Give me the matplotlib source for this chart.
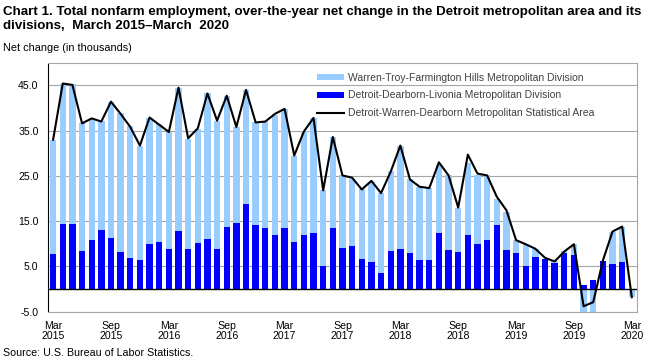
import numpy as np
import matplotlib
matplotlib.use("Agg")
import matplotlib.pyplot as plt
import matplotlib as mpl

mpl.rcParams["font.family"] = ["Liberation Sans", "DejaVu Sans"]

# monthly over-the-year net change (thousands), Mar 2015 .. Mar 2020
DETROIT_DEARBORN = [
    7.8, 14.4, 14.4, 8.4, 10.8, 13.0, 11.3, 8.2, 6.9, 6.4,
    10.0, 10.4, 8.9, 12.8, 8.9, 10.2, 11.1, 8.9, 13.8, 14.6,
    18.8, 14.1, 13.5, 11.9, 13.5, 10.4, 11.9, 12.4, 5.1, 13.5,
    9.1, 9.5, 6.7, 6.0, 3.6, 8.4, 8.9, 8.0, 6.4, 6.4,
    12.4, 8.6, 8.1, 11.9, 10.0, 10.8, 14.1, 8.6, 7.9, 5.2,
    7.0, 6.7, 5.7, 7.9, 7.5, 1.0, 1.9, 6.3, 5.6, 5.9,
    -0.3,
]
WARREN_TROY = [
    25.2, 31.0, 30.9, 28.2, 26.8, 24.1, 30.1, 30.8, 29.2, 25.3,
    27.8, 26.1, 25.8, 31.7, 24.3, 25.2, 32.1, 28.3, 28.9, 21.2,
    25.2, 22.7, 23.5, 26.6, 26.3, 19.1, 23.1, 25.4, 16.7, 20.1,
    16.0, 14.9, 15.3, 17.7, 17.6, 17.6, 22.8, 16.4, 16.2, 15.9,
    14.9, 16.7, 9.7, 15.9, 15.3, 14.3, 5.9, 8.5, 2.9, 4.7,
    1.8, -0.3, 0.5, 0.4, 2.4, -5.3, -5.2, 0.0, 6.9, 7.9,
    -1.5,
]
MSA_TOTAL = [
    33.0, 45.4, 45.1, 36.6, 37.7, 37.0, 41.4, 38.7, 35.8, 31.7,
    37.9, 36.3, 34.7, 44.5, 33.3, 35.5, 43.2, 37.2, 42.7, 35.8,
    44.0, 36.8, 37.0, 38.7, 39.8, 29.5, 34.8, 37.8, 21.8, 33.6,
    25.1, 24.6, 22.0, 23.9, 21.2, 25.9, 31.7, 24.2, 22.6, 22.3,
    28.0, 25.1, 18.0, 29.7, 25.5, 25.1, 20.4, 17.4, 10.8, 9.9,
    8.9, 6.9, 6.1, 8.3, 9.9, -3.8, -2.9, 6.3, 12.7, 13.8,
    -1.8,
]
TICK_LABELS = [
    "Mar\n2015", "Sep\n2015", "Mar\n2016", "Sep\n2016", "Mar\n2017", "Sep\n2017",
    "Mar\n2018", "Sep\n2018", "Mar\n2019", "Sep\n2019", "Mar\n2020",
]
Y_TICKS = [-5.0, 5.0, 15.0, 25.0, 35.0, 45.0]

LIGHT = "#99ccff"
DARK = "#0000ff"
GRID = "#a6a6a6"

TITLE = ("Chart 1. Total nonfarm employment, over-the-year net change in the Detroit "
         "metropolitan area and its\ndivisions,  March 2015\u2013March  2020")


def main():
    dark = np.array(DETROIT_DEARBORN)
    light = np.array(WARREN_TROY)
    msa = np.array(MSA_TOTAL)
    x = np.arange(len(dark))

    # excel-style stacking: negatives stack below zero, positives above
    light_bottom = np.where(light >= 0, np.maximum(dark, 0), np.minimum(dark, 0))

    fig = plt.figure(figsize=(6.57, 3.61), dpi=100)
    ax = fig.add_axes([0.0735, 0.1366, 0.8955, 0.6897])

    b_dark = ax.bar(x, dark, width=0.66, color=DARK, zorder=2,
                    label="Detroit-Dearborn-Livonia Metropolitan Division")
    b_light = ax.bar(x, light, width=0.66, bottom=light_bottom, color=LIGHT, zorder=2,
                     label="Warren-Troy-Farmington Hills Metropolitan Division")
    ln, = ax.plot(x, msa, color="black", lw=1.5, zorder=4,
                  label="Detroit-Warren-Dearborn Metropolitan Statistical Area")
    ax.axhline(0, color="black", lw=1.0, zorder=3)

    ax.set_xlim(-0.5, len(x) - 0.5)
    ax.set_ylim(-5, 50)
    ax.set_yticks(Y_TICKS)
    ax.set_yticklabels([f"{v:.1f}" for v in Y_TICKS])
    ax.set_xticks(x[::6])
    ax.set_xticklabels(TICK_LABELS, linespacing=1.05)
    ax.tick_params(axis="both", length=0, labelsize=7.6, colors="black")
    ax.tick_params(axis="y", pad=7)
    ax.tick_params(axis="x", pad=6.5)

    ax.grid(axis="y", color=GRID, lw=0.8, zorder=0)
    ax.set_axisbelow(True)
    for side in ["top", "right", "bottom"]:
        ax.spines[side].set_color(GRID)
        ax.spines[side].set_linewidth(0.8)
    ax.spines["left"].set_color("black")
    ax.spines["left"].set_linewidth(0.8)

    ax.legend([b_light, b_dark, ln],
              [b_light.get_label(), b_dark.get_label(), ln.get_label()],
              loc="upper left", bbox_to_anchor=(0.4825, 0.798), bbox_transform=fig.transFigure,
              frameon=False, fontsize=7.5, handlelength=2.6, handleheight=0.45,
              handletextpad=0.35, labelspacing=0.72, borderaxespad=0, borderpad=0,
              labelcolor="#404040")

    fig.text(0.005, 0.982, TITLE, fontsize=9.6, fontweight="bold", va="top", ha="left",
             linespacing=1.12)
    fig.text(0.005, 0.868, "Net change (in thousands)", fontsize=7.8, va="center", ha="left")
    fig.text(0.005, 0.023, "Source: U.S. Bureau of Labor Statistics.", fontsize=7.7,
             va="center", ha="left")

    fig.savefig("out.png", dpi=100)
    plt.close(fig)


if __name__ == "__main__":
    main()
